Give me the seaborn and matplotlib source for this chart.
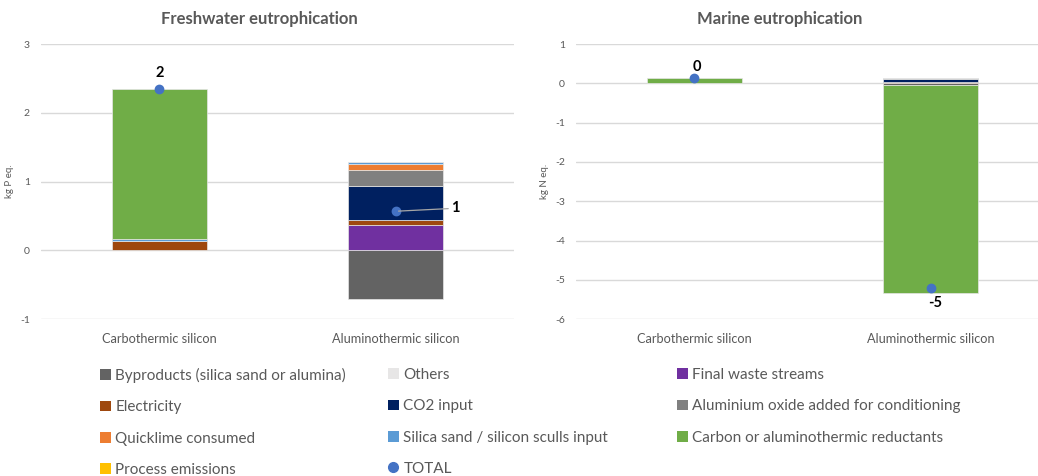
import matplotlib
matplotlib.use("Agg")
import matplotlib.pyplot as plt
from matplotlib.patches import Patch
from matplotlib.lines import Line2D
import numpy as np
import seaborn as sns

# ---- data -------------------------------------------------------------
processes = ["Carbothermic silicon", "Aluminothermic silicon"]

components = [
    "Byproducts (silica sand or alumina)",
    "Others",
    "Final waste streams",
    "Electricity",
    "CO2 input",
    "Aluminium oxide added for conditioning",
    "Quicklime consumed",
    "Silica sand / silicon sculls input",
    "Carbon or aluminothermic reductants",
    "Process emissions",
]

# contributions, one value per component (same order as `components`)
freshwater_carbothermic = [0.0, 0.0, 0.0, 0.14, 0.0, 0.0, 0.0, 0.02, 2.18, 0.0]
freshwater_aluminothermic = [-0.71, 0.0, 0.37, 0.08, 0.485, 0.23, 0.085, 0.03, 0.0, 0.0]
marine_carbothermic = [0.0, 0.0, 0.0, 0.005, 0.0, 0.0, 0.0, 0.003, 0.135, 0.0]
marine_aluminothermic = [-0.04, 0.0, 0.012, 0.01, 0.095, 0.008, 0.005, 0.003, -5.30, 0.0]

freshwater_ticks = [-1, 0, 1, 2, 3]
marine_ticks = [-6, -5, -4, -3, -2, -1, 0, 1]

# ---- style ------------------------------------------------------------
colors = {
    "Byproducts (silica sand or alumina)": "#636363",
    "Others": "#E7E6E6",
    "Final waste streams": "#7030A0",
    "Electricity": "#9E480E",
    "CO2 input": "#002060",
    "Aluminium oxide added for conditioning": "#808080",
    "Quicklime consumed": "#ED7D31",
    "Silica sand / silicon sculls input": "#5B9BD5",
    "Carbon or aluminothermic reductants": "#70AD47",
    "Process emissions": "#FFC000",
}
total_color = "#4472C4"
text_grey = "#595959"

sns.set_theme(style="white")
plt.rcParams["font.family"] = ["Lato", "DejaVu Sans"]

W, H = 1038, 476
fig = plt.figure(figsize=(W / 100, H / 100), dpi=100)
fig.patch.set_facecolor("white")


def fx(px):
    return px / W


def fy(py):
    return 1 - py / H


ax_bottom = fy(319.3)
ax_height = fy(44) - fy(319.3)
ax_fresh = fig.add_axes([fx(41), ax_bottom, fx(473), ax_height])
ax_marine = fig.add_axes([fx(576), ax_bottom, fx(473), ax_height])


def draw_panel(ax, carbo, alumino, ticks, ylabel, label_offsets):
    values = np.array([carbo, alumino], dtype=float)
    pos_base = np.zeros(len(processes))
    neg_base = np.zeros(len(processes))
    for j, comp in enumerate(components):
        v = values[:, j]
        if not np.any(v):
            continue
        bottom = np.where(v >= 0, pos_base, neg_base)
        sns.barplot(x=processes, y=v, bottom=bottom, color=colors[comp],
                    saturation=1, width=0.4, errorbar=None, ax=ax,
                    edgecolor="#E6E6E6", linewidth=0.5, zorder=2)
        pos_base += np.clip(v, 0, None)
        neg_base += np.clip(v, None, 0)

    totals = values.sum(axis=1)
    sns.pointplot(x=processes, y=totals, color=total_color, markers="o",
                  linestyle="none", markersize=5, errorbar=None, ax=ax,
                  zorder=5)

    for i, (t, (dx, dy, leader)) in enumerate(zip(totals, label_offsets)):
        kw = {}
        if leader:
            kw["arrowprops"] = dict(arrowstyle="-", color="#A6A6A6", lw=0.9,
                                    shrinkA=0, shrinkB=2)
        ax.annotate(f"{t:.0f}", xy=(i, t), xytext=(dx, dy),
                    textcoords="offset pixels", ha="center", va="center",
                    fontsize=10.5, fontweight="bold", color="black",
                    zorder=6, **kw)

    ax.set_xlim(-0.5, 1.5)
    ax.set_ylim(ticks[0], ticks[-1])
    ax.set_yticks(ticks)
    ax.set_yticklabels([str(t) for t in ticks])
    ax.yaxis.grid(True, color="#D9D9D9", linewidth=1.0)
    ax.xaxis.grid(False)
    ax.set_axisbelow(True)
    for s in ax.spines.values():
        s.set_visible(False)
    ax.tick_params(axis="y", length=0, pad=8, labelsize=7.5,
                   labelcolor=text_grey)
    ax.tick_params(axis="x", length=0, pad=10, labelsize=9.2,
                   labelcolor=text_grey)
    ax.set_xlabel("")
    ax.set_ylabel(ylabel, fontsize=7, color=text_grey)
    ax.yaxis.set_label_coords(-0.057, 0.5)
    ax.set_facecolor("none")


draw_panel(ax_fresh, freshwater_carbothermic, freshwater_aluminothermic,
           freshwater_ticks, "kg P eq.",
           [(0, 16, False), (60, 3, True)])
draw_panel(ax_marine, marine_carbothermic, marine_aluminothermic,
           marine_ticks, "kg N eq.",
           [(3, 11, False), (4, -15, False)])

fig.text(fx(259), fy(19), "Freshwater eutrophication", ha="center",
         va="center", fontsize=12, fontweight="bold", color=text_grey)
fig.text(fx(780), fy(19), "Marine eutrophication", ha="center",
         va="center", fontsize=12, fontweight="bold", color=text_grey)

# ---- legend: three columns -------------------------------------------
legend_columns = [
    (100, ["Byproducts (silica sand or alumina)", "Electricity",
           "Quicklime consumed", "Process emissions"]),
    (388, ["Others", "CO2 input", "Silica sand / silicon sculls input",
           "TOTAL"]),
    (677, ["Final waste streams", "Aluminium oxide added for conditioning",
           "Carbon or aluminothermic reductants"]),
]
for x_px, names in legend_columns:
    handles = []
    for name in names:
        if name == "TOTAL":
            handles.append(Line2D([], [], marker="o", linestyle="none",
                                  color=total_color, markersize=7))
        else:
            handles.append(Patch(facecolor=colors[name], edgecolor="none"))
    fig.legend(handles, names, loc="upper left",
               bbox_to_anchor=(fx(x_px), fy(368)), frameon=False,
               borderaxespad=0, borderpad=0, handlelength=0.7,
               handleheight=0.7, handletextpad=0.3, labelspacing=1.13,
               fontsize=11, labelcolor=text_grey)

fig.savefig("out.png", dpi=100, facecolor="white")
